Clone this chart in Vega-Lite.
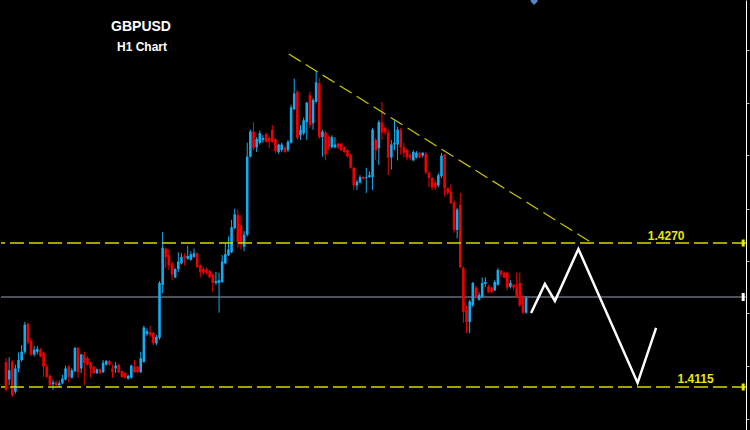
{
"$schema": "https://vega.github.io/schema/vega-lite/v6.json",
"width": 750, "height": 430,
"autosize": {"type": "fit", "contains": "padding"},
"padding": 0,
"background": "#000000",
"config": {"view": {"stroke": null}},
"datasets": {
"candles": [
{"t":0,"o":1.4142,"h":1.4146,"l":1.4110,"c":1.4112},
{"t":1,"o":1.4123,"h":1.4147,"l":1.4117,"c":1.4133},
{"t":2,"o":1.4142,"h":1.4144,"l":1.4104,"c":1.4106},
{"t":3,"o":1.4110,"h":1.4139,"l":1.4108,"c":1.4135},
{"t":4,"o":1.4135,"h":1.4152,"l":1.4131,"c":1.4144},
{"t":5,"o":1.4144,"h":1.4160,"l":1.4142,"c":1.4153},
{"t":6,"o":1.4153,"h":1.4185,"l":1.4151,"c":1.4182},
{"t":7,"o":1.4183,"h":1.4184,"l":1.4161,"c":1.4163},
{"t":8,"o":1.4165,"h":1.4168,"l":1.4148,"c":1.4150},
{"t":9,"o":1.4150,"h":1.4159,"l":1.4148,"c":1.4155},
{"t":10,"o":1.4153,"h":1.4159,"l":1.4150,"c":1.4156},
{"t":11,"o":1.4155,"h":1.4157,"l":1.4147,"c":1.4148},
{"t":12,"o":1.4152,"h":1.4153,"l":1.4126,"c":1.4137},
{"t":13,"o":1.4137,"h":1.4139,"l":1.4125,"c":1.4126},
{"t":14,"o":1.4127,"h":1.4129,"l":1.4116,"c":1.4117},
{"t":15,"o":1.4118,"h":1.4123,"l":1.4112,"c":1.4120},
{"t":16,"o":1.4120,"h":1.4122,"l":1.4116,"c":1.4117},
{"t":17,"o":1.4117,"h":1.4122,"l":1.4115,"c":1.4119},
{"t":18,"o":1.4119,"h":1.4128,"l":1.4118,"c":1.4124},
{"t":19,"o":1.4123,"h":1.4138,"l":1.4122,"c":1.4135},
{"t":20,"o":1.4137,"h":1.4138,"l":1.4120,"c":1.4126},
{"t":21,"o":1.4125,"h":1.4135,"l":1.4124,"c":1.4133},
{"t":22,"o":1.4132,"h":1.4158,"l":1.4131,"c":1.4157},
{"t":23,"o":1.4157,"h":1.4158,"l":1.4125,"c":1.4131},
{"t":24,"o":1.4135,"h":1.4151,"l":1.4130,"c":1.4150},
{"t":25,"o":1.4150,"h":1.4153,"l":1.4117,"c":1.4141},
{"t":26,"o":1.4146,"h":1.4148,"l":1.4138,"c":1.4139},
{"t":27,"o":1.4141,"h":1.4142,"l":1.4125,"c":1.4135},
{"t":28,"o":1.4137,"h":1.4138,"l":1.4129,"c":1.4130},
{"t":29,"o":1.4130,"h":1.4135,"l":1.4129,"c":1.4134},
{"t":30,"o":1.4134,"h":1.4135,"l":1.4129,"c":1.4130},
{"t":31,"o":1.4131,"h":1.4144,"l":1.4130,"c":1.4141},
{"t":32,"o":1.4139,"h":1.4144,"l":1.4138,"c":1.4143},
{"t":33,"o":1.4143,"h":1.4144,"l":1.4138,"c":1.4139},
{"t":34,"o":1.4135,"h":1.4139,"l":1.4125,"c":1.4131},
{"t":35,"o":1.4135,"h":1.4142,"l":1.4130,"c":1.4138},
{"t":36,"o":1.4139,"h":1.4140,"l":1.4130,"c":1.4131},
{"t":37,"o":1.4132,"h":1.4133,"l":1.4125,"c":1.4126},
{"t":38,"o":1.4130,"h":1.4131,"l":1.4124,"c":1.4125},
{"t":39,"o":1.4124,"h":1.4128,"l":1.4123,"c":1.4127},
{"t":40,"o":1.4125,"h":1.4139,"l":1.4124,"c":1.4138},
{"t":41,"o":1.4137,"h":1.4144,"l":1.4130,"c":1.4131},
{"t":42,"o":1.4137,"h":1.4138,"l":1.4130,"c":1.4131},
{"t":43,"o":1.4131,"h":1.4153,"l":1.4130,"c":1.4146},
{"t":44,"o":1.4142,"h":1.4181,"l":1.4141,"c":1.4179},
{"t":45,"o":1.4172,"h":1.4178,"l":1.4170,"c":1.4175},
{"t":46,"o":1.4174,"h":1.4181,"l":1.4169,"c":1.4171},
{"t":47,"o":1.4173,"h":1.4174,"l":1.4160,"c":1.4162},
{"t":48,"o":1.4162,"h":1.4171,"l":1.4160,"c":1.4169},
{"t":49,"o":1.4168,"h":1.4229,"l":1.4166,"c":1.4227},
{"t":50,"o":1.4225,"h":1.4282,"l":1.4216,"c":1.4265},
{"t":51,"o":1.4264,"h":1.4265,"l":1.4243,"c":1.4255},
{"t":52,"o":1.4257,"h":1.4263,"l":1.4241,"c":1.4246},
{"t":53,"o":1.4248,"h":1.4250,"l":1.4230,"c":1.4236},
{"t":54,"o":1.4233,"h":1.4243,"l":1.4232,"c":1.4242},
{"t":55,"o":1.4242,"h":1.4260,"l":1.4239,"c":1.4250},
{"t":56,"o":1.4248,"h":1.4259,"l":1.4247,"c":1.4255},
{"t":57,"o":1.4256,"h":1.4259,"l":1.4246,"c":1.4254},
{"t":58,"o":1.4253,"h":1.4267,"l":1.4252,"c":1.4256},
{"t":59,"o":1.4252,"h":1.4261,"l":1.4251,"c":1.4258},
{"t":60,"o":1.4255,"h":1.4264,"l":1.4254,"c":1.4259},
{"t":61,"o":1.4259,"h":1.4260,"l":1.4243,"c":1.4244},
{"t":62,"o":1.4246,"h":1.4247,"l":1.4233,"c":1.4239},
{"t":63,"o":1.4242,"h":1.4244,"l":1.4236,"c":1.4238},
{"t":64,"o":1.4241,"h":1.4243,"l":1.4236,"c":1.4238},
{"t":65,"o":1.4240,"h":1.4241,"l":1.4232,"c":1.4233},
{"t":66,"o":1.4236,"h":1.4237,"l":1.4217,"c":1.4227},
{"t":67,"o":1.4227,"h":1.4239,"l":1.4225,"c":1.4229},
{"t":68,"o":1.4227,"h":1.4238,"l":1.4195,"c":1.4230},
{"t":69,"o":1.4228,"h":1.4257,"l":1.4227,"c":1.4250},
{"t":70,"o":1.4248,"h":1.4270,"l":1.4247,"c":1.4258},
{"t":71,"o":1.4257,"h":1.4277,"l":1.4256,"c":1.4263},
{"t":72,"o":1.4260,"h":1.4295,"l":1.4259,"c":1.4287},
{"t":73,"o":1.4286,"h":1.4307,"l":1.4285,"c":1.4301},
{"t":74,"o":1.4300,"h":1.4306,"l":1.4265,"c":1.4271},
{"t":75,"o":1.4289,"h":1.4300,"l":1.4263,"c":1.4270},
{"t":76,"o":1.4266,"h":1.4283,"l":1.4261,"c":1.4279},
{"t":77,"o":1.4279,"h":1.4378,"l":1.4277,"c":1.4363},
{"t":78,"o":1.4363,"h":1.4392,"l":1.4362,"c":1.4390},
{"t":79,"o":1.4390,"h":1.4400,"l":1.4370,"c":1.4372},
{"t":80,"o":1.4373,"h":1.4384,"l":1.4368,"c":1.4382},
{"t":81,"o":1.4378,"h":1.4391,"l":1.4376,"c":1.4388},
{"t":82,"o":1.4381,"h":1.4386,"l":1.4378,"c":1.4383},
{"t":83,"o":1.4387,"h":1.4389,"l":1.4378,"c":1.4379},
{"t":84,"o":1.4383,"h":1.4385,"l":1.4372,"c":1.4379},
{"t":85,"o":1.4392,"h":1.4397,"l":1.4378,"c":1.4379},
{"t":86,"o":1.4382,"h":1.4383,"l":1.4367,"c":1.4369},
{"t":87,"o":1.4368,"h":1.4377,"l":1.4366,"c":1.4376},
{"t":88,"o":1.4370,"h":1.4378,"l":1.4368,"c":1.4376},
{"t":89,"o":1.4373,"h":1.4374,"l":1.4367,"c":1.4368},
{"t":90,"o":1.4370,"h":1.4381,"l":1.4368,"c":1.4379},
{"t":91,"o":1.4378,"h":1.4419,"l":1.4377,"c":1.4416},
{"t":92,"o":1.4414,"h":1.4447,"l":1.4413,"c":1.4431},
{"t":93,"o":1.4433,"h":1.4435,"l":1.4381,"c":1.4383},
{"t":94,"o":1.4386,"h":1.4397,"l":1.4381,"c":1.4392},
{"t":95,"o":1.4388,"h":1.4405,"l":1.4386,"c":1.4402},
{"t":96,"o":1.4400,"h":1.4422,"l":1.4381,"c":1.4421},
{"t":97,"o":1.4429,"h":1.4433,"l":1.4394,"c":1.4397},
{"t":98,"o":1.4399,"h":1.4426,"l":1.4392,"c":1.4424},
{"t":99,"o":1.4422,"h":1.4454,"l":1.4421,"c":1.4443},
{"t":100,"o":1.4442,"h":1.4448,"l":1.4382,"c":1.4384},
{"t":101,"o":1.4384,"h":1.4392,"l":1.4363,"c":1.4390},
{"t":102,"o":1.4389,"h":1.4391,"l":1.4359,"c":1.4365},
{"t":103,"o":1.4384,"h":1.4386,"l":1.4370,"c":1.4373},
{"t":104,"o":1.4373,"h":1.4386,"l":1.4372,"c":1.4384},
{"t":105,"o":1.4373,"h":1.4384,"l":1.4372,"c":1.4376},
{"t":106,"o":1.4377,"h":1.4378,"l":1.4371,"c":1.4373},
{"t":107,"o":1.4377,"h":1.4378,"l":1.4369,"c":1.4370},
{"t":108,"o":1.4373,"h":1.4374,"l":1.4367,"c":1.4368},
{"t":109,"o":1.4370,"h":1.4371,"l":1.4362,"c":1.4363},
{"t":110,"o":1.4365,"h":1.4366,"l":1.4350,"c":1.4351},
{"t":111,"o":1.4351,"h":1.4352,"l":1.4327,"c":1.4332},
{"t":112,"o":1.4332,"h":1.4338,"l":1.4327,"c":1.4336},
{"t":113,"o":1.4335,"h":1.4343,"l":1.4334,"c":1.4341},
{"t":114,"o":1.4341,"h":1.4342,"l":1.4338,"c":1.4339},
{"t":115,"o":1.4340,"h":1.4351,"l":1.4324,"c":1.4341},
{"t":116,"o":1.4341,"h":1.4347,"l":1.4340,"c":1.4343},
{"t":117,"o":1.4341,"h":1.4394,"l":1.4327,"c":1.4392},
{"t":118,"o":1.4381,"h":1.4383,"l":1.4359,"c":1.4370},
{"t":119,"o":1.4372,"h":1.4402,"l":1.4354,"c":1.4400},
{"t":120,"o":1.4400,"h":1.4422,"l":1.4381,"c":1.4389},
{"t":121,"o":1.4394,"h":1.4396,"l":1.4386,"c":1.4389},
{"t":122,"o":1.4389,"h":1.4392,"l":1.4343,"c":1.4362},
{"t":123,"o":1.4362,"h":1.4381,"l":1.4349,"c":1.4376},
{"t":124,"o":1.4376,"h":1.4402,"l":1.4370,"c":1.4378},
{"t":125,"o":1.4376,"h":1.4395,"l":1.4359,"c":1.4392},
{"t":126,"o":1.4392,"h":1.4394,"l":1.4365,"c":1.4373},
{"t":127,"o":1.4373,"h":1.4378,"l":1.4362,"c":1.4367},
{"t":128,"o":1.4370,"h":1.4372,"l":1.4359,"c":1.4362},
{"t":129,"o":1.4365,"h":1.4367,"l":1.4359,"c":1.4362},
{"t":130,"o":1.4359,"h":1.4370,"l":1.4358,"c":1.4368},
{"t":131,"o":1.4362,"h":1.4369,"l":1.4361,"c":1.4367},
{"t":132,"o":1.4367,"h":1.4368,"l":1.4361,"c":1.4362},
{"t":133,"o":1.4364,"h":1.4368,"l":1.4362,"c":1.4367},
{"t":134,"o":1.4366,"h":1.4368,"l":1.4344,"c":1.4346},
{"t":135,"o":1.4346,"h":1.4347,"l":1.4330,"c":1.4340},
{"t":136,"o":1.4340,"h":1.4341,"l":1.4327,"c":1.4330},
{"t":137,"o":1.4335,"h":1.4338,"l":1.4327,"c":1.4330},
{"t":138,"o":1.4332,"h":1.4345,"l":1.4330,"c":1.4343},
{"t":139,"o":1.4342,"h":1.4367,"l":1.4340,"c":1.4364},
{"t":140,"o":1.4365,"h":1.4366,"l":1.4320,"c":1.4329},
{"t":141,"o":1.4329,"h":1.4330,"l":1.4322,"c":1.4324},
{"t":142,"o":1.4325,"h":1.4333,"l":1.4312,"c":1.4313},
{"t":143,"o":1.4314,"h":1.4316,"l":1.4281,"c":1.4284},
{"t":144,"o":1.4284,"h":1.4308,"l":1.4275,"c":1.4306},
{"t":145,"o":1.4311,"h":1.4324,"l":1.4243,"c":1.4244},
{"t":146,"o":1.4243,"h":1.4245,"l":1.4184,"c":1.4196},
{"t":147,"o":1.4198,"h":1.4203,"l":1.4173,"c":1.4185},
{"t":148,"o":1.4185,"h":1.4209,"l":1.4173,"c":1.4207},
{"t":149,"o":1.4203,"h":1.4228,"l":1.4201,"c":1.4227},
{"t":150,"o":1.4222,"h":1.4224,"l":1.4210,"c":1.4212},
{"t":151,"o":1.4209,"h":1.4217,"l":1.4208,"c":1.4214},
{"t":152,"o":1.4212,"h":1.4233,"l":1.4211,"c":1.4227},
{"t":153,"o":1.4226,"h":1.4233,"l":1.4223,"c":1.4228},
{"t":154,"o":1.4223,"h":1.4225,"l":1.4216,"c":1.4217},
{"t":155,"o":1.4222,"h":1.4223,"l":1.4216,"c":1.4217},
{"t":156,"o":1.4219,"h":1.4230,"l":1.4218,"c":1.4228},
{"t":157,"o":1.4225,"h":1.4243,"l":1.4224,"c":1.4241},
{"t":158,"o":1.4240,"h":1.4241,"l":1.4233,"c":1.4236},
{"t":159,"o":1.4238,"h":1.4239,"l":1.4232,"c":1.4233},
{"t":160,"o":1.4238,"h":1.4239,"l":1.4219,"c":1.4222},
{"t":161,"o":1.4223,"h":1.4230,"l":1.4221,"c":1.4227},
{"t":162,"o":1.4225,"h":1.4226,"l":1.4219,"c":1.4222},
{"t":163,"o":1.4223,"h":1.4238,"l":1.4211,"c":1.4212},
{"t":164,"o":1.4227,"h":1.4238,"l":1.4201,"c":1.4203},
{"t":165,"o":1.4212,"h":1.4214,"l":1.4193,"c":1.4195},
{"t":166,"o":1.4195,"h":1.4213,"l":1.4194,"c":1.4211}
],
"zigzag": [
{"t":167.6,"p":1.41947},
{"t":172.0,"p":1.42259},
{"t":175.2,"p":1.42076},
{"t":182.7,"p":1.42636},
{"t":201.6,"p":1.41194},
{"t":207.5,"p":1.41786}
],
"trend": [
{"t":90.25,"p":1.44735},
{"t":187.1,"p":1.42700}
]
},
"layer": [
{
"data": {"values": [{"p": 1.42119}]},
"mark": {"type": "rule", "color": "#4b5059", "strokeWidth": 2},
"encoding": {
"y": {"field": "p", "type": "quantitative",
"scale": {"domain": [1.40687, 1.45316], "nice": false, "zero": false},
"axis": {"orient": "right", "labels": false, "title": null, "grid": false, "ticks": true, "tickSize": 3, "tickColor": "#bbbbbb", "tickWidth": 1, "domainColor": "#ffffff", "domainWidth": 1,
"values": [1.4506, 1.4478, 1.4449, 1.4421, 1.4393, 1.4365, 1.4335, 1.4307, 1.4279, 1.4251, 1.4223, 1.4195, 1.4166, 1.4138, 1.4109, 1.4081]}}
}
},
{
"data": {"name": "candles"},
"mark": {"type": "rule", "strokeWidth": 1, "clip": true},
"encoding": {
"x": {"field": "t", "type": "quantitative", "scale": {"domain": [0, 234.6], "nice": false, "zero": false}, "axis": null},
"y": {"field": "l", "type": "quantitative", "scale": {"domain": [1.40687, 1.45316], "nice": false, "zero": false}},
"y2": {"field": "h"},
"color": {"condition": {"test": "datum.c >= datum.o", "value": "#14acee"}, "value": "#f00000"}
}
},
{
"data": {"name": "candles"},
"mark": {"type": "bar", "orient": "vertical", "size": 2.6, "clip": true},
"encoding": {
"x": {"field": "t", "type": "quantitative", "scale": {"domain": [0, 234.6], "nice": false, "zero": false}, "axis": null},
"y": {"field": "o", "type": "quantitative", "scale": {"domain": [1.40687, 1.45316], "nice": false, "zero": false}},
"y2": {"field": "c"},
"color": {"condition": {"test": "datum.c >= datum.o", "value": "#14acee"}, "value": "#f00000"}
}
},
{
"data": {"values": [{"p": 1.4270}, {"p": 1.4115}]},
"mark": {"type": "rule", "color": "#d6d600", "strokeWidth": 1.5, "strokeDash": [14, 5]},
"encoding": {"y": {"field": "p", "type": "quantitative", "scale": {"domain": [1.40687, 1.45316], "nice": false, "zero": false}}}
},
{
"data": {"name": "trend"},
"mark": {"type": "line", "color": "#c8c800", "strokeWidth": 1.2, "strokeDash": [14, 6]},
"encoding": {
"x": {"field": "t", "type": "quantitative", "scale": {"domain": [0, 234.6], "nice": false, "zero": false}, "axis": null},
"y": {"field": "p", "type": "quantitative", "scale": {"domain": [1.40687, 1.45316], "nice": false, "zero": false}}
}
},
{
"data": {"name": "zigzag"},
"mark": {"type": "line", "color": "#ffffff", "strokeWidth": 2.5},
"encoding": {
"x": {"field": "t", "type": "quantitative", "scale": {"domain": [0, 234.6], "nice": false, "zero": false}, "axis": null},
"y": {"field": "p", "type": "quantitative", "scale": {"domain": [1.40687, 1.45316], "nice": false, "zero": false}}
}
},
{
"data": {"values": [{"t": 210.7, "p": 1.42776, "label": "1.4270"}, {"t": 220.1, "p": 1.41236, "label": "1.4115"}]},
"mark": {"type": "text", "color": "#e8e800", "font": "Liberation Sans", "fontWeight": "bold", "fontSize": 12, "align": "center", "baseline": "middle"},
"encoding": {
"x": {"field": "t", "type": "quantitative", "scale": {"domain": [0, 234.6], "nice": false, "zero": false}, "axis": null},
"y": {"field": "p", "type": "quantitative", "scale": {"domain": [1.40687, 1.45316], "nice": false, "zero": false}},
"text": {"field": "label"}
}
},
{
"data": {"values": [{"t": 43.1, "p": 1.45025, "label": "GBPUSD"}]},
"mark": {"type": "text", "color": "#ffffff", "font": "Liberation Sans", "fontWeight": "bold", "fontSize": 14, "align": "center", "baseline": "middle"},
"encoding": {
"x": {"field": "t", "type": "quantitative", "scale": {"domain": [0, 234.6], "nice": false, "zero": false}, "axis": null},
"y": {"field": "p", "type": "quantitative", "scale": {"domain": [1.40687, 1.45316], "nice": false, "zero": false}},
"text": {"field": "label"}
}
},
{
"data": {"values": [{"t": 43.4, "p": 1.44815, "label": "H1 Chart"}]},
"mark": {"type": "text", "color": "#ffffff", "font": "Liberation Sans", "fontWeight": "bold", "fontSize": 12, "align": "center", "baseline": "middle"},
"encoding": {
"x": {"field": "t", "type": "quantitative", "scale": {"domain": [0, 234.6], "nice": false, "zero": false}, "axis": null},
"y": {"field": "p", "type": "quantitative", "scale": {"domain": [1.40687, 1.45316], "nice": false, "zero": false}},
"text": {"field": "label"}
}
},
{
"data": {"values": [{"t": 168.55, "p": 1.45305}]},
"mark": {"type": "point", "shape": "diamond", "size": 60, "filled": true, "opacity": 1, "color": "#5b86c4", "clip": true},
"encoding": {
"x": {"field": "t", "type": "quantitative", "scale": {"domain": [0, 234.6], "nice": false, "zero": false}, "axis": null},
"y": {"field": "p", "type": "quantitative", "scale": {"domain": [1.40687, 1.45316], "nice": false, "zero": false}}
}
},
{
"data": {"values": [{"p": 1.4270}, {"p": 1.4115}]},
"mark": {"type": "tick", "orient": "vertical", "thickness": 3, "size": 7, "opacity": 1, "color": "#e8e800"},
"encoding": {
"x": {"datum": 235.3, "type": "quantitative", "scale": {"domain": [0, 234.6], "nice": false, "zero": false}, "axis": null},
"y": {"field": "p", "type": "quantitative", "scale": {"domain": [1.40687, 1.45316], "nice": false, "zero": false}}
}
},
{
"data": {"values": [{"p": 1.42119}]},
"mark": {"type": "tick", "orient": "vertical", "thickness": 3, "size": 8, "opacity": 1, "color": "#ffffff"},
"encoding": {
"x": {"datum": 235.3, "type": "quantitative", "scale": {"domain": [0, 234.6], "nice": false, "zero": false}, "axis": null},
"y": {"field": "p", "type": "quantitative", "scale": {"domain": [1.40687, 1.45316], "nice": false, "zero": false}}
}
}
]
}
